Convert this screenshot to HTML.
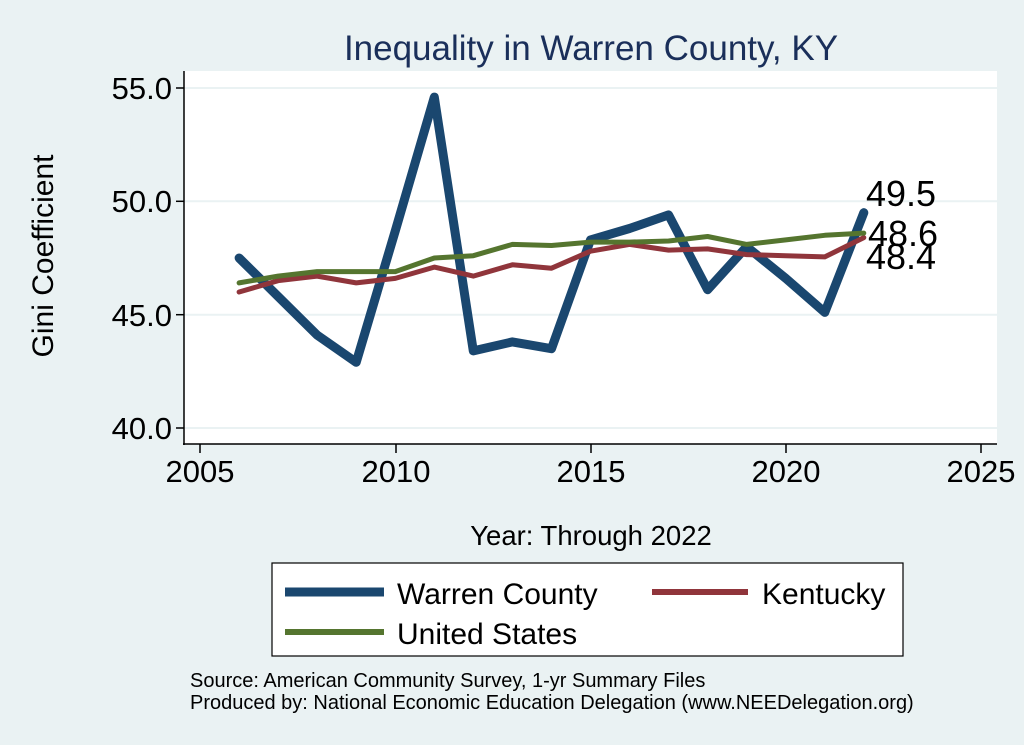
<!DOCTYPE html>
<html><head><meta charset="utf-8"><style>
body{margin:0;background:#eaf2f3;}
svg{display:block;font-family:"Liberation Sans",Arial,sans-serif;}
</style></head><body>
<svg id="s" width="1024" height="745" xmlns="http://www.w3.org/2000/svg">
<rect width="1024" height="745" fill="#eaf2f3"/>
<text x="591" y="60" font-size="35" fill="#1a2f5a" text-anchor="middle">Inequality in Warren County, KY</text>
<rect x="184" y="71" width="813" height="373" fill="#fff"/>
<g stroke="#eaf2f3" stroke-width="2">
<line x1="184" x2="997" y1="88" y2="88"/><line x1="184" x2="997" y1="201.3" y2="201.3"/>
<line x1="184" x2="997" y1="314.7" y2="314.7"/><line x1="184" x2="997" y1="428" y2="428"/>
</g>
<g stroke="#000" stroke-width="1.5">
<line x1="184" y1="71" x2="184" y2="445"/><line x1="183" y1="444" x2="997" y2="444"/>
<line x1="176" x2="184" y1="88" y2="88"/><line x1="176" x2="184" y1="201.3" y2="201.3"/>
<line x1="176" x2="184" y1="314.7" y2="314.7"/><line x1="176" x2="184" y1="428" y2="428"/>
<line x1="200" x2="200" y1="444" y2="453"/><line x1="396" x2="396" y1="444" y2="453"/>
<line x1="591" x2="591" y1="444" y2="453"/><line x1="786" x2="786" y1="444" y2="453"/>
<line x1="981" x2="981" y1="444" y2="453"/>
</g>
<g font-size="31" text-anchor="end" fill="#000">
<text x="172" y="99">55.0</text><text x="172" y="212">50.0</text><text x="172" y="326">45.0</text><text x="172" y="439">40.0</text>
</g>
<g font-size="31" text-anchor="middle" fill="#000">
<text x="200" y="482">2005</text><text x="396" y="482">2010</text><text x="591" y="482">2015</text><text x="786" y="482">2020</text><text x="981" y="482">2025</text>
</g>
<text x="591" y="545" font-size="27.5" text-anchor="middle">Year: Through 2022</text>
<text transform="translate(53,256) rotate(-90)" font-size="30" text-anchor="middle">Gini Coefficient</text>
<g id="lines" fill="none" stroke-linejoin="round" stroke-linecap="round"></g>
<g font-size="36" fill="#000">
<text x="866" y="206">49.5</text><text x="868" y="246">48.6</text><text x="866" y="269">48.4</text>
</g>
<rect x="272" y="563" width="631" height="93" fill="#fff" stroke="#000" stroke-width="1.2"/>
<line x1="285" x2="384" y1="592" y2="592" stroke="#1a476f" stroke-width="9"/>
<line x1="652" x2="748" y1="592" y2="592" stroke="#90353b" stroke-width="6"/>
<line x1="285" x2="384" y1="632" y2="632" stroke="#55752f" stroke-width="6"/>
<g font-size="30"><text x="397" y="604">Warren County</text><text x="762" y="604">Kentucky</text><text x="397" y="644">United States</text></g>
<g font-size="20"><text x="190" y="687">Source: American Community Survey, 1-yr Summary Files</text>
<text x="190" y="709">Produced by: National Economic Education Delegation (www.NEEDelegation.org)</text></g>
</svg>
<script>
var X=function(y){return 200+(y-2005)*39.05},Y=function(v){return 88+(55-v)*22.667};
var W=[47.5,45.8,44.1,42.9,48.7,54.6,43.4,43.8,43.5,48.3,48.8,49.4,46.1,48.0,46.6,45.1,49.5];
var K=[46.0,46.5,46.7,46.4,46.6,47.1,46.7,47.2,47.05,47.8,48.1,47.85,47.9,47.65,47.6,47.55,48.4];
var U=[46.4,46.7,46.9,46.9,46.9,47.5,47.6,48.1,48.05,48.2,48.2,48.25,48.45,48.1,48.3,48.5,48.6];
function pl(d,c,w){var p=d.map(function(v,i){return X(2006+i).toFixed(1)+","+Y(v).toFixed(1)}).join(" ");
return '<polyline points="'+p+'" stroke="'+c+'" stroke-width="'+w+'"/>';}
document.getElementById("lines").innerHTML=pl(W,"#1a476f",9)+pl(K,"#90353b",5)+pl(U,"#55752f",5);
</script>
</body></html>
